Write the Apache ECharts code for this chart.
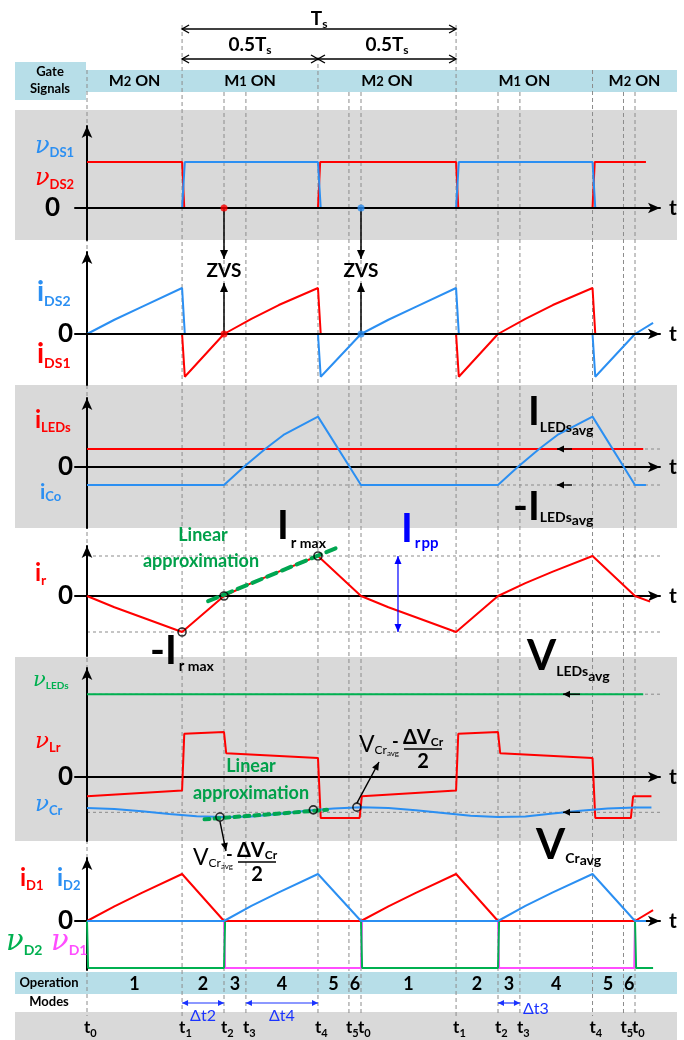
<!DOCTYPE html>
<html>
<head>
<meta charset="utf-8">
<title>LLC resonant LED driver – key waveforms</title>
<script src="https://cdn.jsdelivr.net/npm/echarts@6/dist/echarts.min.js"></script>
<style>
html,body{margin:0;padding:0;background:#fff;}
#chart{width:684px;height:1040px;}
</style>
</head>
<body>
<div id="chart"></div>
<script>
// ---------- time base: fractions of one switching period Ts, t0 = 0 ----------
const tMarks    = [0, 0.347, 0.5, 0.58, 0.843, 0.956, 1.0, 1.347, 1.5, 1.58, 1.845, 1.958, 2.0];
const tMarkSubs = ['0','1','2','3','4','5','0','1','2','3','4','5','0'];
const modeNames = ['1','2','3','4','5','6','1','2','3','4','5','6'];
const gateEdges = [0, 0.347, 0.843, 1.347, 1.845];
const gateSwitch = ['2','1','2','1','2'];          // which MOSFET is on
const zvsTimes  = [0.5, 1.0];                      // M1 / M2 turn-on at zero voltage

// ---------- panel 1: drain-source voltages (high level = 1) ----------
const vDS2 = [[0,1],[0.347,1],[0.355,0],[0.843,0],[0.851,1],[1.347,1],[1.355,0],[1.845,0],[1.853,1],[2.04,1]];
const vDS1 = [[0,0],[0.347,0],[0.357,1],[0.843,1],[0.853,0],[1.347,0],[1.357,1],[1.845,1],[1.855,0],[2.04,0]];

// ---------- panel 2: switch currents (peak = 1) ----------
const iDS2 = [[0,0],[0.1,0.31],[0.2,0.59],[0.347,1],[0.357,0],[0.843,0],[0.853,-0.93],[1.0,0],[1.1,0.31],[1.2,0.59],[1.347,1],[1.357,0],[1.845,0],[1.855,-0.93],[2.0,0],[2.066,0.24]];
const iDS1 = [[0,0],[0.347,0],[0.357,-0.93],[0.5,0],[0.6,0.33],[0.7,0.63],[0.843,1],[0.853,0],[1.347,0],[1.357,-0.93],[1.5,0],[1.6,0.33],[1.7,0.63],[1.845,1],[1.855,0],[2.04,0]];

// ---------- panel 3: LED and output-capacitor currents (ILEDs avg = 1) ----------
const iLEDs = [[0,1],[2.03,1]];
const iCo   = [[0,-1],[0.5,-1],[0.572,0],[0.65,1],[0.717,1.78],[0.843,2.8],[1.0,-1],[1.5,-1],[1.572,0],[1.65,1],[1.717,1.78],[1.845,2.8],[2.0,-1],[2.04,-1]];

// ---------- panel 4: resonant current (Ir max = 1) ----------
const irMax = 1, irMin = -0.9;
const ir    = [[0,0],[0.1,-0.28],[0.2,-0.53],[0.347,-0.9],[0.5,0],[0.6,0.32],[0.7,0.61],[0.843,1],[1.0,0],[1.1,-0.28],[1.2,-0.53],[1.347,-0.9],[1.5,0],[1.6,0.32],[1.7,0.61],[1.845,1],[2.0,0],[2.055,-0.14]];
const irFit   = [[0.442,-0.13],[0.91,1.2]];
const irMarks = [[0.347,-0.9],[0.5,0],[0.843,1]];
const irppAt  = 1.135;

// ---------- panel 5: voltages (vLr high step = 1) ----------
const vLEDs  = [[0,1.84],[2.03,1.84]];
const vLr    = [[0,-0.43],[0.347,-0.3],[0.355,0.96],[0.5,1.0],[0.508,0.53],[0.843,0.42],[0.853,-0.91],[0.995,-0.91],[1.003,-0.43],[1.347,-0.3],[1.355,0.96],[1.5,1.0],[1.508,0.53],[1.845,0.42],[1.855,-0.91],[1.985,-0.91],[1.993,-0.43],[2.06,-0.43]];
const vCr    = [[0,-0.69],[0.1,-0.71],[0.2,-0.76],[0.3,-0.82],[0.4,-0.87],[0.5,-0.89],[0.6,-0.88],[0.7,-0.82],[0.8,-0.75],[0.9,-0.7],[1.0,-0.67],[1.1,-0.69],[1.2,-0.74],[1.3,-0.8],[1.4,-0.86],[1.5,-0.89],[1.6,-0.88],[1.7,-0.81],[1.8,-0.75],[1.9,-0.7],[2.0,-0.68],[2.06,-0.68]];
const vCrAvg = -0.785;
const vCrFit   = [[0.429,-0.94],[0.876,-0.73]];
const vCrMarks = [[0.485,-0.89],[0.826,-0.73],[0.985,-0.67]];

// ---------- panel 6: rectifier diodes (peak current = 1, blocking voltage = -1) ----------
const iD1 = [[0,0],[0.1,0.31],[0.2,0.6],[0.347,1],[0.5,0],[1.0,0],[1.1,0.31],[1.2,0.6],[1.347,1],[1.5,0],[2.0,0],[2.066,0.23]];
const iD2 = [[0,0],[0.5,0],[0.6,0.32],[0.7,0.61],[0.843,1],[1.0,0],[1.5,0],[1.6,0.32],[1.7,0.61],[1.845,1],[2.0,0],[2.04,0]];
const vD2 = [[0,0],[0.004,-1],[0.5,-1],[0.504,0],[1.0,0],[1.004,-1],[1.5,-1],[1.504,0],[2.0,0],[2.004,-1],[2.066,-1]];
const vD1 = [[0,0],[0.5,0],[0.504,-1],[1.0,-1],[1.004,0],[1.5,0],[1.504,-1],[1.997,-1],[2.0,0]];

// ======================= layout & style =======================
const BLACK='#000', RED='#ff0000', BLUE='#2b8ff2', GREEN='#00b050', PINK='#ff4dff',
      NAVY='#1a33ff', FITGREEN='#00a651', TXTGREEN='#00a04a', GRAY='#d9d9d9', AQUA='#b7dee8', GUIDE='#8c8c8c';
const SANS='Lato', SERIF='DejaVu Serif';
const MIDK = {[SANS]:0.387, [SERIF]:0.346};

const PX_PER_TS = 274, ORIGIN_X = 87, AXIS_X0 = 75, AXIS_X1 = 660;
const xMin = -(ORIGIN_X-AXIS_X0)/PX_PER_TS, xMax = (AXIS_X1-ORIGIN_X)/PX_PER_TS;

// vertical extent of each panel's axes: tip of y-arrow, bottom, zero line, px per unit
const panels = [
  {tip:120, bottom:240, zero:208, unit:46, axisOnTop:true},
  {tip:246, bottom:385, zero:334, unit:46, axisOnTop:true},
  {tip:392, bottom:528, zero:467, unit:18},
  {tip:540, bottom:656, zero:596, unit:40},
  {tip:662, bottom:841, zero:777, unit:45},
  {tip:852, bottom:970, zero:921, unit:47}
];

const grids=[], xAxes=[], yAxes=[], series=[];
panels.forEach((p,i)=>{
  const top = p.tip + 6;
  grids.push({left:AXIS_X0, width:AXIS_X1-AXIS_X0, top, height:p.bottom-top, containLabel:false});
  xAxes.push({type:'value', gridIndex:i, min:xMin, max:xMax, z:p.axisOnTop?5:3,
    axisLine:{show:true, onZero:true, symbol:['none','arrow'], symbolSize:[8,12], lineStyle:{color:BLACK, width:2}},
    axisTick:{show:false}, axisLabel:{show:false}, splitLine:{show:false},
    name:'t', nameLocation:'end', nameGap:9,
    nameTextStyle:{fontSize:21, fontWeight:'bold', fontFamily:SANS, color:BLACK, verticalAlign:'middle'}});
  yAxes.push({type:'value', gridIndex:i, min:-(p.bottom-p.zero)/p.unit, max:(p.zero-top)/p.unit, z:3,
    axisLine:{show:true, onZero:true, symbol:['none','arrow'], symbolSize:[8,12], lineStyle:{color:BLACK, width:2}},
    axisTick:{show:false}, axisLabel:{show:false}, splitLine:{show:false}});
});

function wave(p, data, color, extra){
  series.push(Object.assign({type:'line', xAxisIndex:p, yAxisIndex:p, data, symbol:'none', showSymbol:false,
    lineStyle:{color, width:2}, itemStyle:{color}, z:4, silent:true, animation:false}, extra||{}));
}
function refLine(p, data){ wave(p, data, GUIDE, {lineStyle:{color:GUIDE, width:1, type:[3,3]}, z:2}); }
function fit(p, data, dash){ wave(p, data, FITGREEN, {lineStyle:{color:FITGREEN, width:4, type:dash, cap:'round'}, z:5}); }
function dots(p, data, color){ series.push({type:'scatter', xAxisIndex:p, yAxisIndex:p, data, symbolSize:7, itemStyle:{color}, z:6, silent:true, animation:false}); }
function rings(p, data){ series.push({type:'scatter', xAxisIndex:p, yAxisIndex:p, data, symbolSize:8,
  itemStyle:{color:'rgba(0,0,0,0)', borderColor:BLACK, borderWidth:1.6}, z:6, silent:true, animation:false}); }

// panel 1
wave(0, vDS2, RED); wave(0, vDS1, BLUE);
dots(0, [[zvsTimes[0],0]], RED); dots(0, [[zvsTimes[1],0]], BLUE);
// panel 2
wave(1, iDS1, RED); wave(1, iDS2, BLUE);
dots(1, [[zvsTimes[0],0]], RED); dots(1, [[zvsTimes[1],0]], BLUE);
// panel 3
const iAvg = iLEDs[0][1];
refLine(2, [[0,iAvg],[xMax,iAvg]]); refLine(2, [[0,-iAvg],[xMax,-iAvg]]);
wave(2, iLEDs, RED); wave(2, iCo, BLUE);
// panel 4
refLine(3, [[0,irMax],[xMax,irMax]]); refLine(3, [[0,irMin],[xMax,irMin]]);
wave(3, ir, RED); fit(3, irFit, [10,6]); rings(3, irMarks);
// panel 5
const vLedLevel = vLEDs[0][1];
refLine(4, [[0,vLedLevel],[xMax,vLedLevel]]); refLine(4, [[0,vCrAvg],[xMax,vCrAvg]]);
wave(4, vLEDs, GREEN); wave(4, vLr, RED); wave(4, vCr, BLUE);
fit(4, vCrFit, [5,5]); rings(4, vCrMarks);
// panel 6
wave(5, vD1, PINK); wave(5, vD2, GREEN); wave(5, iD1, RED); wave(5, iD2, BLUE);

const chart = echarts.init(document.getElementById('chart'), null, {renderer:'canvas', width:684, height:1040});
chart.setOption({animation:false, backgroundColor:'#fff', grid:grids, xAxis:xAxes, yAxis:yAxes, series});

// ======================= annotations =======================
const X = t => chart.convertToPixel({xAxisIndex:0}, t);
const Y = (p, v) => chart.convertToPixel({yAxisIndex:p}, v);
const els = [];

function rect(x,y,w,h,fill){ els.push({type:'rect', z:0, silent:true, shape:{x,y,width:w,height:h}, style:{fill}}); }
function seg(x1,y1,x2,y2,stroke,lw,dash,z){ els.push({type:'line', z:z==null?6:z, silent:true, shape:{x1,y1,x2,y2}, style:{stroke, lineWidth:lw||1, lineDash:dash||null}}); }
function head(x,y,ang,len,half,color,open){
  const c=Math.cos(ang), s=Math.sin(ang), bx=x-c*len, by=y-s*len;
  const pts=[[bx-s*half, by+c*half],[x,y],[bx+s*half, by-c*half]];
  if(open) els.push({type:'polyline', z:6, silent:true, shape:{points:pts}, style:{stroke:color, lineWidth:1.4, fill:'none'}});
  else els.push({type:'polygon', z:6, silent:true, shape:{points:pts}, style:{fill:color}});
}
function arrow(x1,y1,x2,y2,color,lw,len,half,open,both){
  seg(x1,y1,x2,y2,color,lw);
  const a=Math.atan2(y2-y1,x2-x1);
  head(x2,y2,a,len,half,color,open);
  if(both) head(x1,y1,a+Math.PI,len,half,color,open);
}

const meas = document.createElement('canvas').getContext('2d');
function fontStr(p){ return `${p.style||'normal'} ${p.weight||'normal'} ${p.size}px "${p.family||SANS}"`; }
function textW(p){ meas.font = fontStr(p); return meas.measureText(p.text).width; }
function runs(x, base, parts, align){
  const ws = parts.map(textW);
  const total = ws.reduce((a,b)=>a+b,0) + parts.reduce((a,p)=>a+(p.dx||0),0);
  let cx = align==='center' ? x-total/2 : align==='right' ? x-total : x;
  parts.forEach((p,i)=>{
    cx += p.dx||0;
    const fam = p.family||SANS;
    els.push({type:'text', z:7, silent:true, x:cx, y:base+(p.dy||0)-MIDK[fam]*p.size,
      style:{text:p.text, fontSize:p.size, fontWeight:p.weight||'normal', fontStyle:p.style||'normal', fontFamily:fam,
             fill:p.color||BLACK, align:'left', textAlign:'left', verticalAlign:'middle', textVerticalAlign:'middle'}});
    cx += ws[i];
  });
}
const B  = (text,size,color,dy,dx)=>({text,size,weight:'bold',color:color||BLACK,dy:dy||0,dx:dx||0});
const N  = (text,size,color,dy,dx)=>({text,size,color:color||BLACK,dy:dy||0,dx:dx||0});
const NU = (size,color,dy)=>({text:'\u03bd',size,style:'italic',family:SERIF,color,dy:dy||0});

// background bands
rect(15,62,71,38,AQUA);
rect(86,70,591,22,AQUA);
rect(15,110,662,130,GRAY);
rect(15,385,662,143,GRAY);
rect(15,657,662,184,GRAY);
rect(15,972,662,22,AQUA);
rect(15,1012,662,28,GRAY);

// dashed time guides
const guideTop = [70,25,92,92,57,92,92,25,92,92,70,92,92];
tMarks.forEach((t,i)=>seg(X(t), guideTop[i], X(t), 1016, GUIDE, 1, [4,3], 1));

// period arrows
const tA = gateEdges[1], tB = gateEdges[2], tC = gateEdges[3];
arrow(X(tA),29,X(tC),29,BLACK,1.3,7,4,true,true);
arrow(X(tA),59,X(tB),59,BLACK,1.3,7,4,true,true);
arrow(X(tB),59,X(tC),59,BLACK,1.3,7,4,true,true);
runs(X((tA+tC)/2), 26, [B('T',19),B('s',12,BLACK,3)], 'center');
runs(X((tA+tB)/2), 52, [B('0.5T',19),B('s',12,BLACK,3)], 'center');
runs(X((tB+tC)/2), 52, [B('0.5T',19),B('s',12,BLACK,3)], 'center');

// gate signals
runs(50, 77, [B('Gate',13)], 'center');
runs(50, 94, [B('Signals',13)], 'center');
gateEdges.forEach((t,i)=>{
  const tEnd = i+1<gateEdges.length ? gateEdges[i+1] : xMax+0.06;
  runs(X((t+tEnd)/2), 87, [B('M',16),B(gateSwitch[i],13),B(' ON',16)], 'center');
});

// ZVS markers
zvsTimes.forEach(t=>{
  const x = X(t);
  arrow(x, Y(0,0), x, 259, BLACK, 1.5, 9, 4);
  arrow(x, Y(1,0), x, 283, BLACK, 1.5, 9, 4);
  runs(x, 278, [B('ZVS',19)], 'center');
});

// zero labels
runs(60, Y(0,0)+10, [B('0',26)], 'right');
[1,2,3,4,5].forEach(p=>runs(73, Y(p,0)+10, [B('0',26)], 'right'));

// panel 1 labels
runs(35, 155, [NU(24,BLUE), B('DS1',13,BLUE,3)]);
runs(35, 187, [NU(24,RED),  B('DS2',13,RED,3)]);
// panel 2 labels
runs(37, 303, [B('i',28,BLUE), B('DS2',14,BLUE,4)]);
runs(37, 365, [B('i',28,RED),  B('DS1',14,RED,4)]);
// panel 3 labels
runs(35, 430, [B('i',24,RED),  B('LEDs',13,RED,3)]);
runs(40, 500, [B('i',21,BLUE), B('Co',13,BLUE,2)]);
runs(528, 428, [B('I',40), B('LEDs',14,BLACK,5), B('avg',14,BLACK,8)]);
runs(513, 523, [B('-',40), B('I',40), B('LEDs',14,BLACK,0), B('avg',14,BLACK,3)]);
[iAvg,-iAvg].forEach(v=>arrow(572, Y(2,v), 557, Y(2,v), BLACK, 1.4, 7, 3.5));

// panel 4 labels
runs(35, 583, [B('i',24,RED), B('r',14,RED,3)]);
runs(203, 542, [B('Linear',18,TXTGREEN)], 'center');
runs(201, 568, [B('approximation',18,TXTGREEN)], 'center');
runs(277, 542, [B('I',40), B('r',15,BLACK,7,2), B(' max',14,BLACK,7)]);
runs(401, 545, [B('I',40,'#0000ff'), B('r',15,'#0000ff',4,2), B('pp',15,'#0000ff',4,1)]);
runs(150, 667, [B('-',40), B('I',40), B('r',15,BLACK,5,2), B(' max',14,BLACK,5)]);
arrow(X(irppAt), Y(3,irMax), X(irppAt), Y(3,irMin), '#0000ff', 1.2, 8, 3.5, false, true);

// panel 5 labels
runs(33, 688, [NU(21,GREEN), B('LEDs',10,GREEN,2)]);
runs(35, 750, [NU(23,RED),   B('Lr',13,RED,3)]);
runs(35, 813, [NU(23,BLUE),  B('Cr',13,BLUE,3)]);
runs(527, 673, [B('V',42), B('LEDs',14,BLACK,4), B('avg',14,BLACK,9)]);
runs(251, 773, [B('Linear',18,TXTGREEN)], 'center');
runs(251, 800, [B('approximation',18,TXTGREEN)], 'center');
[vLedLevel, vCrAvg].forEach(v=>arrow(580, Y(4,v), 563, Y(4,v), BLACK, 1.4, 7, 3.5));

// "V_Cr,avg - ΔV_Cr / 2" callouts
function vcrLabel(x0, base){
  runs(x0, base, [N('V',23), N('Cr',12,BLACK,2), N('avg',8,BLACK,4)]);
  runs(x0+33, base-4, [B('-',18)]);
  const cx = x0+64;
  runs(cx, base-8, [B('\u0394V',20), B('Cr',12,BLACK,2)], 'center');
  seg(cx-19, base-4, cx+19, base-4, BLACK, 1.5);
  runs(cx, base+16, [B('2',20)], 'center');
}
vcrLabel(359, 753);
vcrLabel(193, 866);
arrow(X(vCrMarks[2][0]), Y(4,vCrMarks[2][1])-4, 379, 762, BLACK, 1.4, 8, 3.5);
arrow(X(vCrMarks[0][0]), Y(4,vCrMarks[0][1])+4, 226, 851, BLACK, 1.4, 8, 3.5);

// panel 6 labels
runs(20, 888, [B('i',24,RED),  B('D1',13,RED,3)]);
runs(57, 888, [B('i',24,BLUE), B('D2',13,BLUE,3)]);
runs(6, 953,  [NU(29,GREEN), B('D2',14,GREEN,3)]);
runs(51, 953, [NU(29,PINK),  B('D1',14,PINK,3)]);
runs(536, 862, [B('V',42), B('Cr',14,BLACK,2), B('avg',14,BLACK,4)]);

// operation modes
runs(49, 988, [B('Operation',13)], 'center');
runs(49, 1007, [B('Modes',13)], 'center');
modeNames.forEach((m,i)=>runs(X((tMarks[i]+tMarks[i+1])/2), 991, [B(m,18)], 'center'));

// mode durations
arrow(X(tMarks[1]),1003,X(tMarks[2]),1003,NAVY,1.2,6,3,false,true);
arrow(X(tMarks[3]),1003,X(tMarks[4]),1003,NAVY,1.2,6,3,false,true);
arrow(X(tMarks[8]),1003,X(tMarks[9]),1003,NAVY,1.2,6,3,false,true);
runs(X((tMarks[1]+tMarks[2])/2), 1022, [N('\u0394t2',16,NAVY)], 'center');
runs(X((tMarks[3]+tMarks[4])/2), 1022, [N('\u0394t4',16,NAVY)], 'center');
runs(X(tMarks[9])+3, 1015, [N('\u0394t3',16,NAVY)]);

// time instants
tMarks.forEach((t,i)=>runs(X(t)-3, 1034, [B('t',17), B(tMarkSubs[i],11,BLACK,4)]));

chart.setOption({graphic:{elements:els}});
</script>
</body>
</html>
